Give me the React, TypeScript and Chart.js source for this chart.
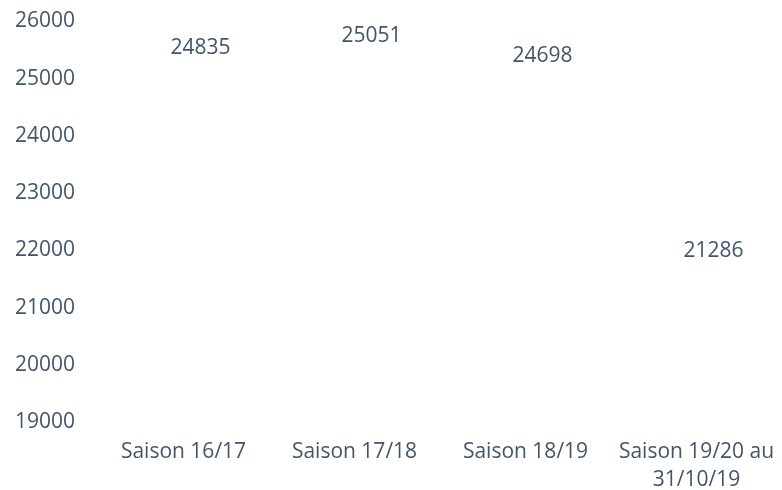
import React, { useEffect, useRef } from "react";
import { Chart, registerables } from "chart.js";

Chart.register(...registerables);

const categories: (string | string[])[] = [
  "Saison 16/17",
  "Saison 17/18",
  "Saison 18/19",
  ["Saison 19/20 au", "31/10/19"],
];
const values: number[] = [24835, 25051, 24698, 21286];
const yMin = 19000;
const yMax = 26000;
const yStep = 1000;

const TEXT = "#44546A";
const FONT = "'Open Sans', 'Noto Sans', sans-serif";

const labelPlugin = {
  id: "valueLabels",
  afterDatasetsDraw(chart: any) {
    const ctx = chart.ctx;
    const meta = chart.getDatasetMeta(0);
    ctx.save();
    ctx.fillStyle = TEXT;
    ctx.font = `21px ${FONT}`;
    ctx.textAlign = "center";
    ctx.textBaseline = "middle";
    meta.data.forEach((el: any, i: number) => {
      ctx.fillText(String(values[i]), el.x + 17, el.y - 40);
    });
    ctx.restore();
  },
};

export default function App() {
  const ref = useRef<HTMLCanvasElement | null>(null);
  useEffect(() => {
    if (!ref.current) return;
    const chart = new Chart(ref.current, {
      type: "bar",
      data: {
        labels: categories,
        datasets: [
          {
            data: values,
            backgroundColor: "rgba(0,0,0,0)",
            borderWidth: 0,
          },
        ],
      },
      options: {
        responsive: false,
        animation: false,
        layout: { padding: { top: 21.5, right: 0, bottom: 0, left: 0 } },
        plugins: {
          legend: { display: false },
          tooltip: { enabled: false },
        },
        scales: {
          x: {
            grid: { display: false, drawTicks: false },
            border: { display: false },
            ticks: {
              color: TEXT,
              font: { family: FONT, size: 21, lineHeight: 1.333 },
              padding: 16,
              maxRotation: 0,
              autoSkip: false,
            },
            afterFit: (s: any) => {
              s.height = 68;
              s.paddingLeft = 0;
              s.paddingRight = 0;
            },
          },
          y: {
            min: yMin,
            max: yMax,
            grid: { display: false, drawTicks: false },
            border: { display: false },
            ticks: {
              stepSize: yStep,
              color: TEXT,
              font: { family: FONT, size: 21 },
              padding: 23,
              callback: (v: any) => String(v),
            },
            afterFit: (s: any) => {
              s.width = 98;
              s.paddingTop = 0;
              s.paddingBottom = 0;
            },
          },
        },
      },
      plugins: [labelPlugin],
    });
    return () => chart.destroy();
  }, []);
  return (
    <div style={{ position: "absolute", left: 0, top: 0, width: 782, height: 490 }}>
      <canvas ref={ref} width={782} height={490} style={{ width: 782, height: 490 }} />
    </div>
  );
}
